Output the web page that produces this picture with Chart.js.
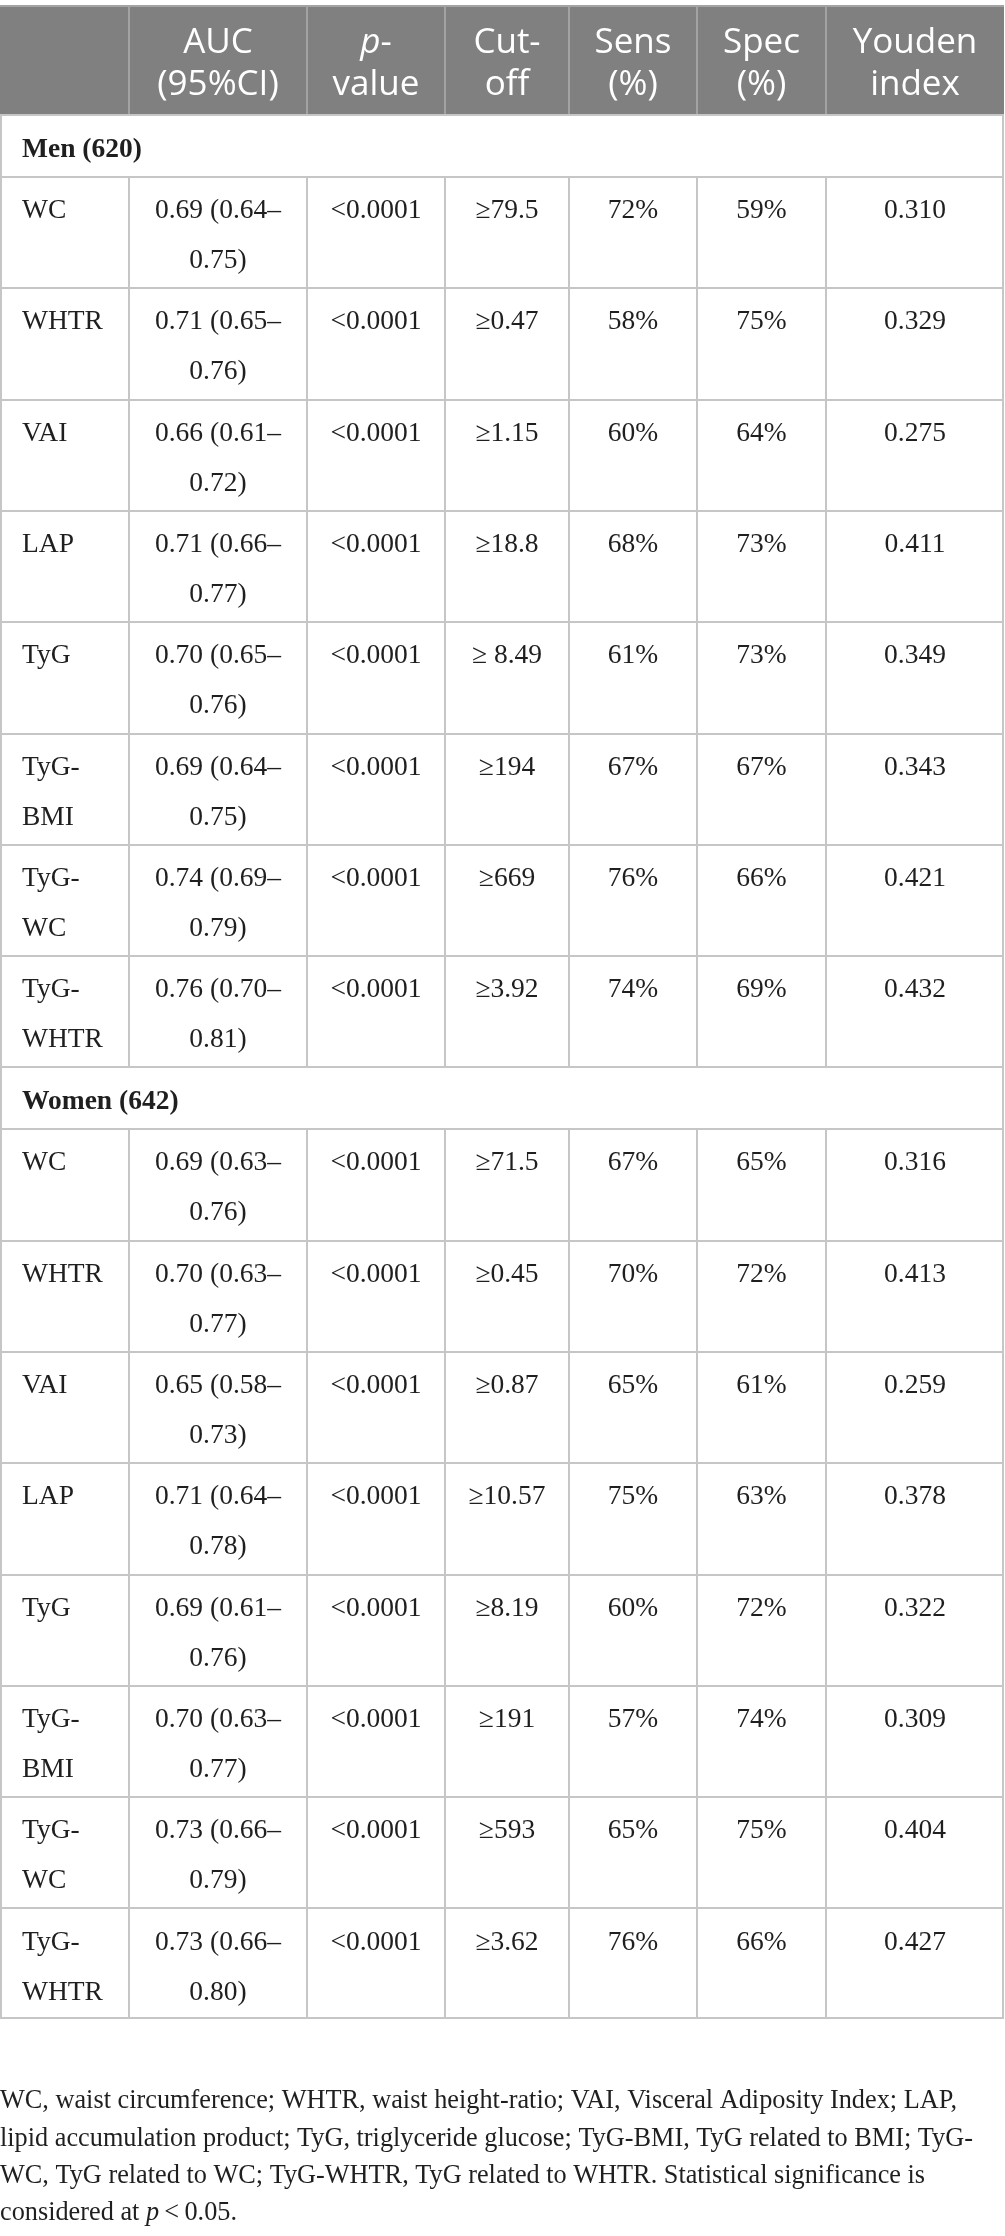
<!DOCTYPE html>
<html>
<head>
<meta charset="utf-8">
<title>ROC table</title>
<script src="https://cdn.jsdelivr.net/npm/chart.js@4.4.0/dist/chart.umd.min.js"></script>
<style>
    html, body { margin: 0; padding: 0; background: #fff; }
    canvas { display: block; }
</style>
</head>
<body>
<canvas id="rocTable" width="1005" height="2236"></canvas>
<script>
// Data table: AUC dan cut-off tiap indeks per kelompok
const markers = ['WC', 'WHTR', 'VAI', 'LAP', 'TyG', 'TyG-BMI', 'TyG-WC', 'TyG-WHTR'];
const groups = ['Men (620)', 'Women (642)'];

const menAuc    = [0.69, 0.71, 0.66, 0.71, 0.70, 0.69, 0.74, 0.76];
const menCiLow  = [0.64, 0.65, 0.61, 0.66, 0.65, 0.64, 0.69, 0.70];
const menCiHigh = [0.75, 0.76, 0.72, 0.77, 0.76, 0.75, 0.79, 0.81];
const menP      = ['<0.0001', '<0.0001', '<0.0001', '<0.0001', '<0.0001', '<0.0001', '<0.0001', '<0.0001'];
const menCutoff = ['≥79.5', '≥0.47', '≥1.15', '≥18.8', '≥ 8.49', '≥194', '≥669', '≥3.92'];
const menSens   = [72, 58, 60, 68, 61, 67, 76, 74];
const menSpec   = [59, 75, 64, 73, 73, 67, 66, 69];
const menYouden = [0.310, 0.329, 0.275, 0.411, 0.349, 0.343, 0.421, 0.432];

const womenAuc    = [0.69, 0.70, 0.65, 0.71, 0.69, 0.70, 0.73, 0.73];
const womenCiLow  = [0.63, 0.63, 0.58, 0.64, 0.61, 0.63, 0.66, 0.66];
const womenCiHigh = [0.76, 0.77, 0.73, 0.78, 0.76, 0.77, 0.79, 0.80];
const womenP      = ['<0.0001', '<0.0001', '<0.0001', '<0.0001', '<0.0001', '<0.0001', '<0.0001', '<0.0001'];
const womenCutoff = ['≥71.5', '≥0.45', '≥0.87', '≥10.57', '≥8.19', '≥191', '≥593', '≥3.62'];
const womenSens   = [67, 70, 65, 75, 60, 57, 65, 76];
const womenSpec   = [65, 72, 61, 63, 72, 74, 75, 66];
const womenYouden = [0.316, 0.413, 0.259, 0.378, 0.322, 0.309, 0.404, 0.427];

// Judul kolom (segmen dengan flag italic)
const headerLines = [
    [],
    [[['AUC', false]], [['(95%CI)', false]]],
    [[['p', true], ['-', false]], [['value', false]]],
    [[['Cut-', false]], [['off', false]]],
    [[['Sens', false]], [['(%)', false]]],
    [[['Spec', false]], [['(%)', false]]],
    [[['Youden', false]], [['index', false]]]
];

const footnoteLines = [
    [['WC, waist circumference; WHTR, waist height-ratio; VAI, Visceral Adiposity Index; LAP,', false]],
    [['lipid accumulation product; TyG, triglyceride glucose; TyG-BMI, TyG related to BMI; TyG-', false]],
    [['WC, TyG related to WC; TyG-WHTR, TyG related to WHTR. Statistical significance is', false]],
    [['considered at ', false], ['p', true], ['\u2009<\u20090.05.', false]]
];

// Layout (dalam satuan skala, 1 unit = 1 px)
const colEdges = [0, 129, 307, 445, 569, 697, 826, 1004];
const tableTop = 5;
const headerHeight = 109;
const groupHeight = 62;
const rowHeight = 111.3;
const cellPadLeft = 22;
const cellPadX = 20;
const bodySize = 27.5;
const footBaselines = [2108, 2146, 2183, 2220];
const footWidth = 957;

const headerBg = '#808080';
const headerLine = '#a3a3a3';
const gridColor = '#c6c6c6';
const textColor = '#1f1f1f';
const serif = '"Liberation Serif", "DejaVu Serif", serif';
const sans = '"Open Sans", "Lato", sans-serif';

function buildRows() {
    const sets = [
        [menAuc, menCiLow, menCiHigh, menP, menCutoff, menSens, menSpec, menYouden],
        [womenAuc, womenCiLow, womenCiHigh, womenP, womenCutoff, womenSens, womenSpec, womenYouden]
    ];
    const rows = [];
    groups.forEach((g, gi) => {
        rows.push({ kind: 'group', label: g });
        const [auc, lo, hi, p, cut, sens, spec, youden] = sets[gi];
        markers.forEach((m, i) => {
            rows.push({
                kind: 'data',
                cells: [
                    m,
                    auc[i].toFixed(2) + ' (' + lo[i].toFixed(2) + '–' + hi[i].toFixed(2) + ')',
                    p[i],
                    cut[i],
                    sens[i] + '%',
                    spec[i] + '%',
                    youden[i].toFixed(3)
                ]
            });
        });
    });
    return rows;
}

function wrapText(ctx, text, maxW) {
    const tokens = text.match(/[^\s\-–]+[\-–]?\s*|\s+/g) || [text];
    const lines = [];
    let cur = '';
    tokens.forEach(t => {
        const test = cur + t;
        if (cur && ctx.measureText(test.trimEnd()).width > maxW) {
            lines.push(cur.trimEnd());
            cur = t;
        } else {
            cur = test;
        }
    });
    if (cur) lines.push(cur.trimEnd());
    return lines;
}

function drawSegments(ctx, segs, x, y, size, family, align, maxW) {
    const fontOf = it => (it ? 'italic ' : '') + size + 'px ' + family;
    let total = 0;
    segs.forEach(s => { ctx.font = fontOf(s[1]); total += ctx.measureText(s[0]).width; });
    const k = maxW && total > maxW ? maxW / total : 1;
    let cx = align === 'center' ? x - total * k / 2 : x;
    ctx.save();
    ctx.translate(cx, y);
    ctx.scale(k, 1);
    let off = 0;
    ctx.textAlign = 'left';
    segs.forEach(s => {
        ctx.font = fontOf(s[1]);
        ctx.fillText(s[0], off, 0);
        off += ctx.measureText(s[0]).width;
    });
    ctx.restore();
}

const tablePlugin = {
    id: 'tablePlugin',
    afterDraw(chart) {
        const ctx = chart.ctx;
        const px = v => chart.scales.x.getPixelForValue(v);
        const py = v => chart.scales.y.getPixelForValue(v);
        const rows = buildRows();
        const left = px(colEdges[0]);
        const right = px(colEdges[colEdges.length - 1]);

        ctx.save();
        ctx.textBaseline = 'alphabetic';

        // Header
        const hTop = tableTop, hBot = tableTop + headerHeight;
        ctx.fillStyle = headerBg;
        ctx.fillRect(left, py(hTop), right - left, py(hBot) - py(hTop));
        ctx.strokeStyle = headerLine;
        ctx.lineWidth = 2;
        ctx.beginPath();
        ctx.moveTo(left, py(hTop) + 1);
        ctx.lineTo(right, py(hTop) + 1);
        for (let c = 1; c < colEdges.length - 1; c++) {
            ctx.moveTo(px(colEdges[c]), py(hTop));
            ctx.lineTo(px(colEdges[c]), py(hBot));
        }
        ctx.stroke();
        ctx.fillStyle = '#ffffff';
        headerLines.forEach((lines, c) => {
            const cx = (px(colEdges[c]) + px(colEdges[c + 1])) / 2;
            lines.forEach((segs, li) => {
                drawSegments(ctx, segs, cx, py(hTop + 48 + li * 42), 35, sans, 'center');
            });
        });

        // Body
        let y = hBot;
        const hLines = [y];
        const vSegs = [];
        rows.forEach(r => {
            const h = r.kind === 'group' ? groupHeight : rowHeight;
            ctx.fillStyle = textColor;
            if (r.kind === 'group') {
                ctx.font = 'bold ' + bodySize + 'px ' + serif;
                ctx.textAlign = 'left';
                ctx.fillText(r.label, px(colEdges[0] + cellPadLeft), py(y + 43));
                vSegs.push([y, y + h, [0, colEdges.length - 1]]);
            } else {
                ctx.font = bodySize + 'px ' + serif;
                r.cells.forEach((txt, c) => {
                    const x0 = colEdges[c], x1 = colEdges[c + 1];
                    const lines = wrapText(ctx, txt, x1 - x0 - 2 * cellPadX);
                    lines.forEach((ln, li) => {
                        const by = py(y + 42 + li * 50);
                        if (c === 0) {
                            ctx.textAlign = 'left';
                            ctx.fillText(ln, px(x0 + cellPadLeft), by);
                        } else {
                            ctx.textAlign = 'center';
                            ctx.fillText(ln, (px(x0) + px(x1)) / 2, by);
                        }
                    });
                });
                vSegs.push([y, y + h, colEdges.map((_, i) => i)]);
            }
            y += h;
            hLines.push(y);
        });

        ctx.strokeStyle = gridColor;
        ctx.lineWidth = 2;
        ctx.beginPath();
        hLines.forEach((v, i) => {
            const yy = Math.round(py(v)) + (i === hLines.length - 1 ? -1 : 1);
            ctx.moveTo(left, yy);
            ctx.lineTo(right, yy);
        });
        vSegs.forEach(([a, b, idx]) => {
            idx.forEach(i => {
                let xx = px(colEdges[i]);
                if (i === 0) xx += 1;
                if (i === colEdges.length - 1) xx -= 1;
                ctx.moveTo(xx, py(a));
                ctx.lineTo(xx, py(b));
            });
        });
        ctx.stroke();

        // Footnote
        ctx.fillStyle = textColor;
        ctx.font = '28px ' + serif;
        const natural = ctx.measureText(footnoteLines[0][0][0]).width;
        const squeeze = Math.min(1, footWidth / natural);
        footnoteLines.forEach((segs, i) => {
            let w = 0;
            segs.forEach(s => {
                ctx.font = (s[1] ? 'italic ' : '') + '28px ' + serif;
                w += ctx.measureText(s[0]).width;
            });
            drawSegments(ctx, segs, px(0), py(footBaselines[i]), 28, serif, 'left', w * squeeze);
        });

        ctx.restore();
    }
};

const chart = new Chart(document.getElementById('rocTable'), {
    type: 'scatter',
    data: { datasets: [] },
    options: {
        responsive: false,
        animation: false,
        devicePixelRatio: 1,
        layout: { padding: 0 },
        scales: {
            x: { type: 'linear', min: 0, max: 1005, display: false },
            y: { type: 'linear', min: 0, max: 2236, reverse: true, display: false }
        },
        plugins: {
            legend: { display: false },
            tooltip: { enabled: false }
        }
    },
    plugins: [tablePlugin]
});
</script>
</body>
</html>
